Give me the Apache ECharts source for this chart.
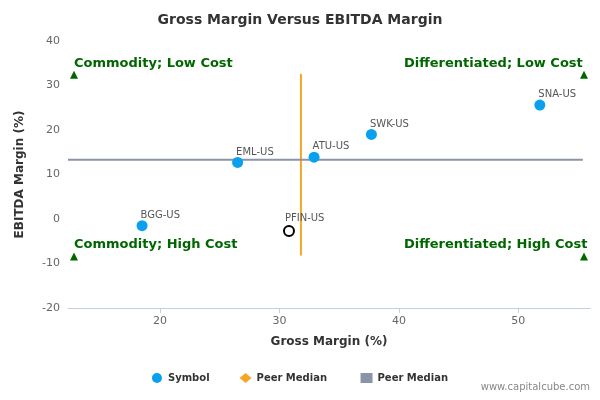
<!DOCTYPE html>
<html>
<head>
    <meta charset="utf-8">
    <script src="https://cdn.jsdelivr.net/npm/echarts@6/dist/echarts.min.js"></script>
</head>
<body style="margin:0">
    <div id="main" style="width:600px;height:400px;"></div>
</body>
<script>
    var names = ['BGG-US', 'EML-US', 'ATU-US', 'SWK-US', 'SNA-US'];
    var grossMargin = [18.5, 26.5, 32.9, 37.7, 51.8];
    var ebitdaMargin = [-1.5, 12.7, 13.9, 19.0, 25.6];
    var subject = ['PFIN-US', 30.8, -2.7];
    var medianX = 31.8, medianY = 13.3;
    var xMin = 12.3, xMax = 56;
    var xTicks = [20, 30, 40, 50];
    var quadrants = [
        [12.8, 32.4, 'Commodity; Low Cost', 'right'],
        [55.5, 32.4, 'Differentiated; Low Cost', 'left'],
        [12.8, -8.4, 'Commodity; High Cost', 'right'],
        [55.5, -8.4, 'Differentiated; High Cost', 'left']
    ];

    var font = 'DejaVu Sans';
    var myChart = echarts.init(document.getElementById('main'));
    var pts = names.map(function(n, i) { return [grossMargin[i], ebitdaMargin[i], n]; });

    myChart.setOption({
        animation: false,
        textStyle: { fontFamily: font },
        title: {
            text: 'Gross Margin Versus EBITDA Margin', left: 'center', top: 8,
            textStyle: { fontSize: 14, fontWeight: 'bold', color: '#333' }
        },
        grid: { left: 68, right: 10, top: 41, bottom: 92 },
        legend: {
            bottom: 12, left: 'center', itemGap: 30, itemWidth: 12, itemHeight: 10,
            textStyle: { fontWeight: 'bold', fontSize: 10, color: '#333' },
            data: [
                { name: 'Symbol', icon: 'circle' },
                { name: 'Peer Median ', icon: 'diamond', itemStyle: { color: '#f5a623' } },
                { name: 'Peer Median', icon: 'rect', itemStyle: { color: '#8a93a8' } }
            ]
        },
        xAxis: {
            type: 'value', min: xMin, max: xMax,
            name: 'Gross Margin (%)', nameLocation: 'middle', nameGap: 28,
            nameTextStyle: { fontWeight: 'bold', fontSize: 12, color: '#333' },
            axisLine: { onZero: false, lineStyle: { color: '#c0d0e0' } },
            axisTick: { show: true, customValues: xTicks, lineStyle: { color: '#c0d0e0' } },
            axisLabel: { color: '#666', fontSize: 11, customValues: xTicks },
            splitLine: { show: false }
        },
        yAxis: {
            type: 'value', min: -20, max: 40, interval: 10,
            name: 'EBITDA Margin (%)', nameLocation: 'middle', nameGap: 42,
            nameTextStyle: { fontWeight: 'bold', fontSize: 12, color: '#333' },
            axisLine: { show: false }, axisTick: { show: false },
            axisLabel: { color: '#666', fontSize: 11 },
            splitLine: { show: false }
        },
        series: [
            {
                name: 'Symbol', type: 'scatter', data: pts, symbolSize: 11,
                itemStyle: { color: '#0aa0f0', opacity: 1 },
                label: { show: true, formatter: function(p) { return p.data[2]; }, position: [4, -10], color: '#555', fontSize: 10 },
                z: 5
            },
            {
                name: 'PFIN', type: 'scatter', data: [[subject[1], subject[2], subject[0]]], symbolSize: 10,
                itemStyle: { color: '#fff', borderColor: '#000', borderWidth: 2, opacity: 1 },
                label: { show: true, formatter: function(p) { return p.data[2]; }, position: [2, -12], color: '#555', fontSize: 10 },
                z: 5
            },
            {
                name: 'Peer Median ', type: 'line', data: [[medianX, -8.2], [medianX, 32.6]],
                symbol: 'none', lineStyle: { color: '#f5a623', width: 2 }, itemStyle: { color: '#f5a623' }
            },
            {
                name: 'Peer Median', type: 'line', data: [[xMin, medianY], [55.4, medianY]],
                symbol: 'none', lineStyle: { color: '#8a93a8', width: 2 }, itemStyle: { color: '#8a93a8' }
            },
            {
                name: 'Quadrants', type: 'scatter', symbol: 'triangle', symbolSize: 8,
                itemStyle: { color: '#006600', opacity: 1 },
                data: quadrants.map(function(q) {
                    return {
                        value: [q[0], q[1]],
                        label: { show: true, formatter: q[2], position: q[3] === 'right' ? [4, -14] : [-176, -14],
                            color: '#006600', fontWeight: 'bold', fontSize: 13 }
                    };
                })
            }
        ],
        graphic: [{
            type: 'text', right: 10, bottom: 8,
            style: { text: 'www.capitalcube.com', fill: '#888', fontSize: 10, fontFamily: font }
        }]
    });
</script>
</html>
